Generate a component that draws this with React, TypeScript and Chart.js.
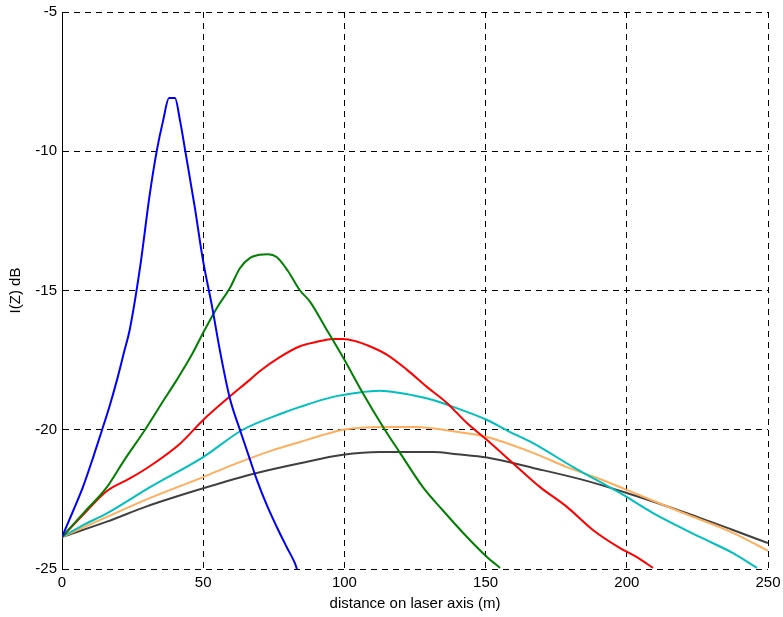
import React, { useEffect, useRef } from "react";
import { Chart, registerables } from "chart.js";

Chart.register(...registerables);

const xTicks = [0, 50, 100, 150, 200, 250];
const yTicks = [-25, -20, -15, -10, -5];

const blueX = [0, 4, 7.4, 11, 14.2, 17, 19.5, 22, 24, 27.6, 31, 33.6, 35.8, 37.9, 40, 41.8, 43.6, 47, 49.9, 53, 56, 59.5, 63, 66, 69, 72.5, 76.1, 79.5, 82.5, 83.2];
const blueY = [-23.85, -22.9, -22.06, -21.0, -20.0, -19.1, -18.2, -17.2, -16.4, -14.2, -11.6, -9.96, -8.9, -8.09, -8.09, -8.9, -9.96, -12.0, -13.9, -15.5, -17.2, -18.9, -20.0, -20.9, -21.8, -22.7, -23.5, -24.2, -24.8, -25.0];

const greenX = [0, 8, 15.9, 22, 29.4, 35, 40.7, 46, 50.6, 55, 59.5, 63, 66.6, 70, 73, 76, 80, 84.3, 87.8, 93.1, 99.5, 106.6, 113.7, 119.7, 127.8, 134.9, 143.4, 150.5, 155.1];
const greenY = [-23.85, -22.95, -22.06, -21.1, -20.0, -19.1, -18.2, -17.3, -16.4, -15.6, -14.9, -14.2, -13.83, -13.72, -13.7, -13.8, -14.3, -15.0, -15.4, -16.3, -17.4, -18.7, -19.9, -20.83, -22.06, -22.9, -23.85, -24.57, -24.96];

const redX = [0, 8, 15.9, 24, 31.2, 41.8, 50, 59.5, 66.6, 70, 77, 84.3, 90, 96, 99.5, 104, 108, 115, 122.2, 129.2, 136.3, 143.4, 150.5, 159.7, 169.3, 178.8, 188, 197.6, 204, 209.3];
const redY = [-23.85, -23.0, -22.2, -21.75, -21.3, -20.5, -19.65, -18.8, -18.2, -17.9, -17.4, -17.0, -16.85, -16.74, -16.74, -16.82, -16.96, -17.3, -17.85, -18.46, -19.04, -19.76, -20.37, -21.2, -22.06, -22.77, -23.6, -24.25, -24.6, -24.96];

const cyanX = [0, 8, 15.9, 31.2, 50, 64, 78.2, 84.3, 96, 104, 112.6, 119.7, 125, 131.4, 138.5, 150.5, 158, 166.8, 181, 197.6, 209.3, 225.9, 237.6, 246.1];
const cyanY = [-23.85, -23.4, -23.0, -22.06, -20.98, -20.0, -19.4, -19.18, -18.82, -18.68, -18.6, -18.68, -18.78, -18.93, -19.18, -19.65, -20.05, -20.48, -21.34, -22.27, -22.99, -23.85, -24.43, -24.96];

const orangeX = [0, 15.9, 30, 50, 62, 74.7, 84.3, 92, 99.5, 113.7, 125.7, 137.4, 150.5, 166.8, 178.8, 190, 200, 220, 237.6, 250];
const orangeY = [-23.85, -23.13, -22.5, -21.7, -21.2, -20.73, -20.44, -20.2, -20.0, -19.9, -19.9, -20.04, -20.26, -20.83, -21.34, -21.75, -22.16, -22.99, -23.7, -24.35];

const grayX = [0, 15.9, 30, 50, 69, 84.3, 99.5, 112.6, 122, 131.4, 140, 150.5, 166.8, 184.5, 200, 220, 237.6, 250];
const grayY = [-23.85, -23.3, -22.75, -22.1, -21.55, -21.2, -20.9, -20.8, -20.8, -20.8, -20.88, -21.0, -21.37, -21.8, -22.27, -22.95, -23.6, -24.07];

const FONT = "'Liberation Sans', Arial, Helvetica, sans-serif";

function pts(xs: number[], ys: number[]) {
  return xs.map((x, i) => ({ x, y: ys[i] }));
}

export default function App() {
  const ref = useRef<HTMLCanvasElement | null>(null);
  useEffect(() => {
    if (!ref.current) return;
    const series = [
      { d: pts(blueX, blueY), c: "#0000FF" },
      { d: pts(greenX, greenY), c: "#008000" },
      { d: pts(redX, redY), c: "#FF0000" },
      { d: pts(cyanX, cyanY), c: "#00BFBF" },
      { d: pts(orangeX, orangeY), c: "#FFAE5E" },
      { d: pts(grayX, grayY), c: "#404040" },
    ];
    const chart = new Chart(ref.current, {
      type: "line",
      data: {
        datasets: series.map((s) => ({
          data: s.d,
          borderColor: s.c,
          backgroundColor: s.c,
          borderWidth: 2,
          pointRadius: 0,
          cubicInterpolationMode: "monotone",
          fill: false,
        })),
      },
      options: {
        animation: false,
        responsive: false,
        layout: { padding: { top: 12, right: 15, left: 0, bottom: 0 } },
        plugins: { legend: { display: false }, tooltip: { enabled: false } },
        scales: {
          x: {
            type: "linear",
            min: 0,
            max: 250,
            afterBuildTicks: (s: any) => {
              s.ticks = xTicks.map((v) => ({ value: v }));
            },
            afterFit: (s: any) => {
              s.height = 48;
              s.paddingLeft = 0;
              s.paddingRight = 0;
            },
            ticks: { color: "#000", padding: 5, font: { family: FONT, size: 15 } },
            grid: { color: "#000", lineWidth: 1, drawTicks: false },
            border: { display: false, dash: [6, 5] },
            title: {
              display: true,
              text: "distance on laser axis (m)",
              color: "#000",
              font: { family: FONT, size: 15 },
              padding: { top: 0, bottom: 4 },
            },
          },
          y: {
            type: "linear",
            min: -25,
            max: -5,
            afterBuildTicks: (s: any) => {
              s.ticks = yTicks.map((v) => ({ value: v }));
            },
            afterFit: (s: any) => {
              s.width = 62;
              s.paddingTop = 0;
              s.paddingBottom = 0;
            },
            ticks: { color: "#000", padding: 5, font: { family: FONT, size: 15 } },
            grid: { color: "#000", lineWidth: 1, drawTicks: false },
            border: { display: true, color: "#000", width: 1, dash: [6, 5] },
            title: {
              display: true,
              text: "I(Z) dB",
              color: "#000",
              font: { family: FONT, size: 15 },
              padding: { top: 7, bottom: 0 },
            },
          },
        },
      },
    } as any);
    return () => chart.destroy();
  }, []);
  return (
    <div style={{ position: "fixed", left: 0, top: 0, width: 783, height: 617, background: "#fff" }}>
      <canvas ref={ref} width={783} height={617} />
    </div>
  );
}
